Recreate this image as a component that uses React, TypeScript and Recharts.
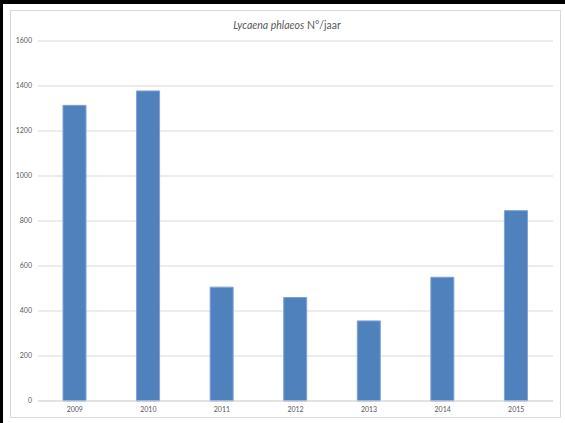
import { BarChart, Bar, XAxis, YAxis, CartesianGrid } from 'recharts';

const years = ['2009', '2010', '2011', '2012', '2013', '2014', '2015'];
const counts = [1314, 1378, 506, 460, 356, 550, 846];
const yTicks = [0, 200, 400, 600, 800, 1000, 1200, 1400, 1600];

const data = years.map((year, i) => ({ year, count: counts[i] }));

const FONT = 'Lato, "Open Sans", sans-serif';

export default function App() {
  return (
    <div
      style={{
        position: 'fixed',
        top: 0,
        left: 0,
        width: 565,
        height: 423,
        background: '#fff',
        overflow: 'hidden',
        fontFamily: FONT,
      }}
    >
      {/* black frame left/top from the screenshot */}
      <div style={{ position: 'absolute', left: 0, top: 0, width: 565, height: 4, background: '#000' }} />
      <div style={{ position: 'absolute', left: 0, top: 0, width: 3, height: 423, background: '#000' }} />
      {/* light chart area border */}
      <div
        style={{
          position: 'absolute',
          left: 10,
          top: 10,
          width: 551,
          height: 408,
          border: '1px solid #D9D9D9',
          boxSizing: 'border-box',
        }}
      />
      <div
        style={{
          position: 'absolute',
          left: 0,
          top: 19,
          width: 574,
          textAlign: 'center',
          fontSize: 10.5,
          color: '#595959',
        }}
      >
        <i>Lycaena phlaeos</i> N°/jaar
      </div>
      <div style={{ position: 'absolute', left: 0, top: 0 }}>
        <BarChart
          width={565}
          height={423}
          data={data}
          margin={{ top: 41, right: 12, left: 8, bottom: 8 }}
          barSize={23}
        >
          <CartesianGrid vertical={false} stroke="#D9D9D9" strokeWidth={1} />
          <XAxis
            dataKey="year"
            height={14}
            tickSize={0}
            tickMargin={6}
            axisLine={{ stroke: '#D9D9D9' }}
            tick={{ fontSize: 7, fill: '#595959', fontFamily: FONT }}
          />
          <YAxis
            width={30}
            domain={[0, 1600]}
            ticks={yTicks}
            tickSize={0}
            tickMargin={6}
            axisLine={false}
            tickLine={false}
            tick={{ fontSize: 7, fill: '#595959', fontFamily: FONT }}
          />
          <Bar
            dataKey="count"
            fill="#4F81BD"
            stroke="#7FA3D3"
            strokeWidth={1}
            isAnimationActive={false}
          />
        </BarChart>
      </div>
    </div>
  );
}
